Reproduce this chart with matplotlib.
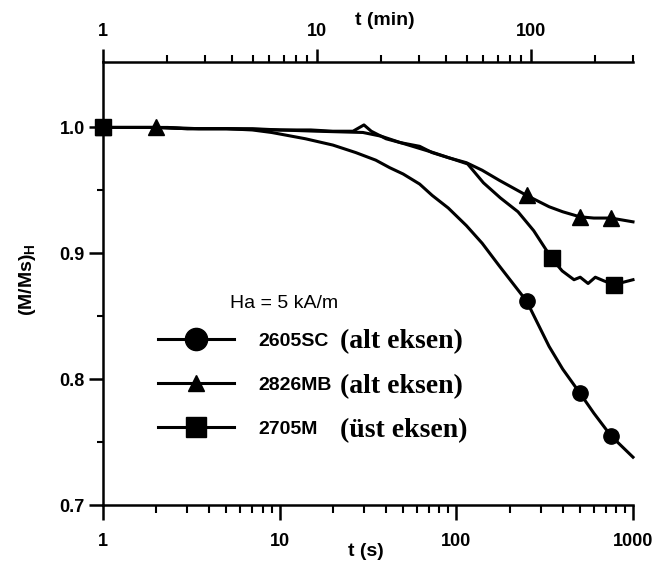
import matplotlib
matplotlib.use('Agg')
import matplotlib.pyplot as plt
from matplotlib.lines import Line2D
from matplotlib.ticker import FixedLocator, FixedFormatter, NullFormatter

plt.rcParams['font.family'] = ['Liberation Sans', 'DejaVu Sans']
plt.rcParams['font.weight'] = 'bold'
plt.rcParams['axes.labelweight'] = 'bold'
plt.rcParams['mathtext.fontset'] = 'custom'
plt.rcParams['mathtext.rm'] = 'Liberation Sans:bold'

# ---- data ----
# 2605SC, bottom axis t (s)
sc_t = [1, 2, 3, 5, 7, 9, 14, 20, 27, 35, 42, 50, 62, 73, 90, 114, 140, 175,
        250, 335, 400, 500, 600, 750, 1000]
sc_M = [1.0, 1.0, 0.999, 0.999, 0.998, 0.996, 0.991, 0.986, 0.980, 0.974, 0.968,
        0.963, 0.955, 0.946, 0.936, 0.922, 0.908, 0.890, 0.862, 0.826, 0.808,
        0.789, 0.773, 0.755, 0.738]
sc_marks = [1, 250, 500, 750]

# 2826MB, bottom axis t (s)
mb_t = [1, 2, 3, 5, 10, 15, 20, 26, 30, 33, 40, 48, 62, 73, 90, 114, 140, 175,
        250, 335, 400, 500, 600, 750, 1000]
mb_M = [1.0, 1.0, 0.999, 0.999, 0.998, 0.998, 0.997, 0.997, 1.002, 0.997, 0.991,
        0.988, 0.985, 0.980, 0.976, 0.972, 0.966, 0.958, 0.946, 0.937, 0.933,
        0.929, 0.928, 0.928, 0.925]
mb_marks = [1, 2, 250, 500, 750]

# 2705M, top axis t (min)
m_t = [1, 2, 2.8, 5, 6.7, 10, 16.4, 20, 24.5, 35, 50.6, 60, 72, 87, 103, 125,
       140, 159, 170, 185, 200, 220, 245, 270, 300]
m_M = [1.0, 1.0, 0.999, 0.999, 0.998, 0.997, 0.996, 0.993, 0.988, 0.980, 0.971,
       0.956, 0.944, 0.933, 0.918, 0.896, 0.886, 0.879, 0.881, 0.876, 0.881,
       0.878, 0.875, 0.877, 0.879]
m_marks = [1, 125, 245]

labels = ['2605SC', '2826MB', '2705M']
axis_notes = ['(alt eksen)', '(alt eksen)', '(üst eksen)']

x_bottom_ticks = [1, 10, 100, 1000]
x_bottom_labels = ['1', '10', '100', '1000']
x_top_ticks = [1, 10, 100]
x_top_labels = ['1', '10', '100']
y_ticks = [0.7, 0.8, 0.9, 1.0]
y_labels = ['0.7', '0.8', '0.9', '1.0']
y_minor = [0.75, 0.85, 0.95]

# ---- figure ----
W, H = 653, 578
fig = plt.figure(figsize=(W / 100, H / 100), dpi=100)
ax = fig.add_axes([103 / W, 1 - 505 / H, 530 / W, 443 / H])
ax.set_xscale('log')
ax.set_xlim(1, 1000)
ax.set_ylim(0.7, 1.052)

lw = 2.2
ax.plot(sc_t, sc_M, color='k', lw=lw, marker='o', ms=11,
        markevery=[sc_t.index(v) for v in sc_marks], clip_on=False, zorder=3)
ax.plot(mb_t, mb_M, color='k', lw=lw, marker='^', ms=11,
        markevery=[mb_t.index(v) for v in mb_marks], clip_on=False, zorder=3)

ax2 = ax.twiny()
ax2.set_xscale('log')
ax2.set_xlim(1, 300)
ax2.plot(m_t, m_M, color='k', lw=lw, marker='s', ms=12,
         markevery=[m_t.index(v) for v in m_marks], clip_on=False, zorder=3)

# spines
for s in ['top', 'right']:
    ax.spines[s].set_visible(False)
for s in ['right', 'left', 'bottom']:
    ax2.spines[s].set_visible(False)
for a, s in [(ax, 'left'), (ax, 'bottom'), (ax2, 'top')]:
    a.spines[s].set_linewidth(1.8)

# ticks
ax.xaxis.set_ticks_position('bottom')
ax.yaxis.set_ticks_position('left')
ax.xaxis.set_major_locator(FixedLocator(x_bottom_ticks))
ax.xaxis.set_major_formatter(FixedFormatter(x_bottom_labels))
ax.xaxis.set_minor_formatter(NullFormatter())
ax.yaxis.set_major_locator(FixedLocator(y_ticks))
ax.yaxis.set_major_formatter(FixedFormatter(y_labels))
ax.yaxis.set_minor_locator(FixedLocator(y_minor))
ax.tick_params(axis='x', which='major', direction='out', length=11, width=1.8,
               pad=9, labelsize=13)
ax.tick_params(axis='x', which='minor', direction='out', length=6, width=1.5)
ax.tick_params(axis='y', which='major', direction='out', length=10, width=1.8,
               pad=3, labelsize=13)
ax.tick_params(axis='y', which='minor', direction='out', length=4.5, width=1.5)

ax2.xaxis.set_ticks_position('top')
ax2.xaxis.set_major_locator(FixedLocator(x_top_ticks))
ax2.xaxis.set_major_formatter(FixedFormatter(x_top_labels))
ax2.xaxis.set_minor_formatter(NullFormatter())
ax2.tick_params(axis='x', which='major', direction='out', length=9.5, width=1.8,
                pad=6, labelsize=13)
ax2.tick_params(axis='x', which='minor', direction='out', length=5, width=1.5)

# axis labels
ax.set_xlabel('t (s)', fontsize=14, weight='bold')
ax.xaxis.set_label_coords((366 - 103) / 530, (505 - 543) / 443)
ax2.set_xlabel('t (min)', fontsize=14, weight='bold')
ax2.xaxis.set_label_coords((385 - 103) / 530, (505 - 25) / 443)
ax.set_ylabel(r'(M/Ms)$_{\rm H}$', fontsize=14, weight='bold')
ax.yaxis.set_label_coords((38 - 103) / 530, (505 - 280) / 443)

# annotation and legend
fig.text(230 / W, 1 - 303 / H, 'Ha = 5 kA/m', fontsize=14, weight='normal',
         ha='left', va='center')

handles = [
    Line2D([], [], color='k', lw=lw, marker='o', ms=16),
    Line2D([], [], color='k', lw=lw, marker='^', ms=11),
    Line2D([], [], color='k', lw=lw, marker='s', ms=14),
]
leg = ax.legend(handles, labels, loc='center left',
                bbox_to_anchor=(158 / W, 1 - 385 / H),
                bbox_transform=fig.transFigure, frameon=False,
                fontsize=14, handlelength=3.9, handletextpad=1.25,
                labelspacing=1.35, borderpad=0, borderaxespad=0)

row_y = [342, 387, 431]
for note, yy in zip(axis_notes, row_y):
    fig.text(340 / W, 1 - yy / H, note, fontsize=20, weight='bold',
             family=['Liberation Serif', 'DejaVu Serif'], ha='left', va='center')

fig.savefig('out.png', dpi=100)
